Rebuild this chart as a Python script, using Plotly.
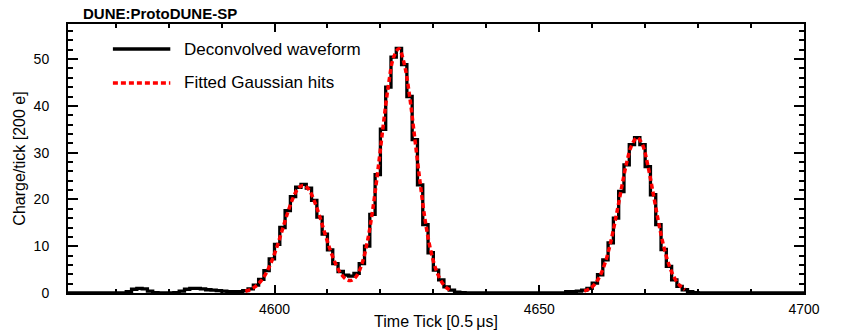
import plotly.graph_objects as go

# ---------------- data ----------------
bin_start = 4561  # first bin of the deconvolved waveform (bins are 1 tick wide)
counts = (
    [0.0] * 11 +                                   # 4561-4571
    [0.3, 0.8, 1.0, 0.9, 0.4] +                    # 4572-4576
    [0.1, 0.0, 0.0, 0.0, 0.1] +                    # 4577-4581
    [0.4, 0.8, 1.0, 1.0, 0.9, 0.7, 0.6, 0.5, 0.4, 0.3, 0.3, 0.3] +   # 4582-4593
    [0.5, 0.9, 1.7, 2.9, 4.8, 7.3, 10.4, 14.0, 17.6, 20.6,           # 4594-4603
     22.6, 23.2, 22.4, 19.8, 16.2, 12.6, 9.2, 6.3, 4.6, 3.8,         # 4604-4613
     3.6, 4.2, 6.3, 10.0, 16.8, 25.3, 35.0, 44.0, 50.4, 52.3,        # 4614-4623
     48.8, 42.0, 32.8, 23.1, 14.6, 8.6, 4.9, 2.8, 1.3, 0.6,          # 4624-4633
     0.2, 0.1] +                                                     # 4634-4635
    [0.0] * 19 +                                                     # 4636-4654
    [0.3, 0.3, 0.4, 0.6, 1.0, 2.1, 3.9, 7.1, 10.7, 16.0,             # 4655-4664
     21.7, 27.4, 31.7, 33.2, 31.7, 27.0, 21.0, 14.6, 9.3, 5.7,       # 4665-4674
     2.8, 1.4, 0.7, 0.3, 0.1] +                                      # 4675-4679
    [0.0] * 20                                                       # 4680-4699
)

# fitted Gaussian hits, sampled at bin centres
fit1_ticks = list(range(4594, 4634))
fit1_vals = [0.37, 0.77, 1.48, 2.65, 4.4, 6.9, 10.0, 13.6, 17.2, 20.3,
             22.4, 23.0, 22.1, 19.7, 16.5, 12.8, 9.3, 6.35, 4.2, 2.95,
             2.69, 3.64, 6.2, 10.75, 17.45, 26.0, 35.5, 44.3, 50.4, 52.2,
             49.0, 42.2, 33.0, 23.6, 15.2, 9.1, 5.0, 2.5, 1.1, 0.45]
fit2_ticks = list(range(4658, 4678))
fit2_vals = [0.39, 0.9, 1.92, 3.74, 6.68, 10.9, 16.3, 22.2, 27.8, 31.7,
             33.2, 31.7, 27.3, 21.4, 15.3, 10.0, 6.0, 3.3, 1.65, 0.75]

x_range = [4561, 4700]
y_range = [0, 57.5]

title_text = "<b>DUNE:ProtoDUNE-SP</b>"
x_title = "Time Tick [0.5\u2009\u03bcs]"
y_title = "Charge/tick [200 e]"
legend_names = ["Deconvolved waveform", "Fitted Gaussian hits"]

# ---------------- figure ----------------
FONT = "Liberation Sans, Arial, Helvetica, sans-serif"

edges = list(range(bin_start, bin_start + len(counts) + 1))
hist_y = counts + [counts[-1]]

fit_x = [t + 0.5 for t in fit1_ticks] + [None] + [t + 0.5 for t in fit2_ticks]
fit_y = fit1_vals + [None] + fit2_vals

fig = go.Figure()
fig.add_trace(go.Scatter(
    x=edges, y=hist_y, mode="lines", name=legend_names[0],
    line=dict(shape="hv", color="black", width=3.3), showlegend=False,
))
fig.add_trace(go.Scatter(
    x=fit_x, y=fit_y, mode="lines", name=legend_names[1], connectgaps=False,
    line=dict(shape="spline", color="#ff0000", width=3.5, dash="5px,3px"),
    showlegend=False,
))

axis_common = dict(
    showline=True, linecolor="black", linewidth=2, mirror="allticks",
    ticks="inside", tickcolor="black", tickwidth=1.5,
    showgrid=False, zeroline=False, automargin=False,
    tickfont=dict(family=FONT, size=14, color="black"),
)

fig.update_xaxes(
    range=x_range, dtick=50, tick0=4600, ticklen=8,
    minor=dict(dtick=10, ticklen=4, ticks="inside", tickcolor="black", tickwidth=1.5),
    title=dict(text=x_title, font=dict(family=FONT, size=16, color="black"), standoff=0),
    ticklabelstandoff=2,
    **axis_common,
)
fig.update_yaxes(
    range=y_range, dtick=10, tick0=0, ticklen=10,
    minor=dict(dtick=2, ticklen=5, ticks="inside", tickcolor="black", tickwidth=1.5),
    title=dict(text=y_title, font=dict(family=FONT, size=16, color="black"), standoff=4),
    ticklabelstandoff=14,
    **axis_common,
)

# legend drawn inside the frame (ROOT-style)
leg_x0, leg_x1, leg_tx = 0.061, 0.139, 0.155
leg_y = [0.907, 0.781]
fig.add_shape(type="line", xref="paper", yref="paper", x0=leg_x0, x1=leg_x1,
              y0=leg_y[0], y1=leg_y[0], line=dict(color="black", width=3.5))
fig.add_shape(type="line", xref="paper", yref="paper", x0=leg_x0, x1=leg_x1,
              y0=leg_y[1], y1=leg_y[1], line=dict(color="#ff0000", width=3.5, dash="5px,3px"))
for name, yy in zip(legend_names, leg_y):
    fig.add_annotation(xref="paper", yref="paper", x=leg_tx, y=yy, text=name,
                       showarrow=False, xanchor="left", yanchor="middle",
                       font=dict(family=FONT, size=17, color="black"))

fig.update_layout(
    width=847, height=335,
    margin=dict(l=68, r=43, t=24, b=42, autoexpand=False),
    plot_bgcolor="white", paper_bgcolor="white",
    title=dict(text=title_text, xref="container", yref="container",
               x=83 / 847, y=1 - 14 / 335, xanchor="left", yanchor="middle",
               font=dict(family=FONT, size=15, color="black")),
    showlegend=False,
)

fig.write_html(
    "out.html",
    config={"displayModeBar": False},
    post_script="document.body.style.margin='0';document.body.style.overflow='hidden';",
)
